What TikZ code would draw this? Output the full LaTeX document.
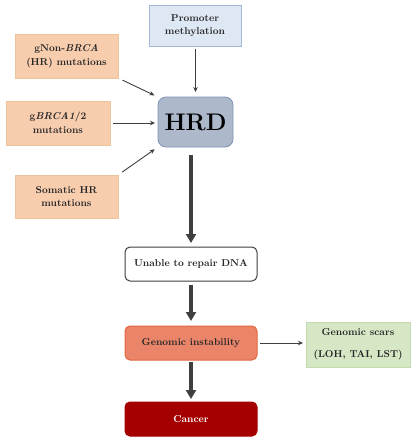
\documentclass[tikz,border=0pt]{standalone}
\usetikzlibrary{arrows.meta}
\definecolor{peach}{HTML}{F8CDAE}
\definecolor{peachline}{HTML}{EDC39C}
\definecolor{paleblue}{HTML}{DEE8F5}
\definecolor{paleblueline}{HTML}{A3B7D8}
\definecolor{hrdfill}{HTML}{ADB8CB}
\definecolor{hrdline}{HTML}{7F92B4}
\definecolor{salmon}{HTML}{EA8569}
\definecolor{salmonline}{HTML}{E2663F}
\definecolor{palegreen}{HTML}{D6E7C5}
\definecolor{palegreenline}{HTML}{C3DBAC}
\definecolor{darkred}{HTML}{A40000}
\definecolor{arrowgray}{HTML}{3F3F3F}
\definecolor{textgray}{HTML}{262626}
\begin{document}
\begin{tikzpicture}[y=1pt, x=1pt, yscale=-1, inner sep=0pt, outer sep=0pt,
  every node/.style={font=\fontsize{10}{13.5}\selectfont\bfseries, text=textgray, align=center},
  cause/.style={fill=peach, draw=peachline, line width=0.6pt, minimum width=103pt, minimum height=44pt},
  stage/.style={rounded corners=5pt, line width=1pt, minimum width=132pt, minimum height=34pt},
  thin arrow/.style={draw=arrowgray, line width=0.9pt, -{Stealth[length=5pt,width=4.5pt]}},
  thick arrow/.style={draw=arrowgray, line width=3.6pt, -{Triangle[length=9pt,width=10pt]}}]
\useasboundingbox (0,0) rectangle (415,440);
  % causes
  \node[fill=paleblue, draw=paleblueline, line width=0.6pt, minimum width=92pt, minimum height=41pt] (promoter) at (195,25.5) {Promoter\\methylation};
  \node[cause] (gnon) at (66.5,56) {gNon-\textit{BRCA}\\(HR) mutations};
  \node[cause, minimum width=104pt] (gbrca) at (58,123) {g\textit{BRCA1}/2\\mutations};
  \node[cause, minimum height=43pt] (somatic) at (66.5,196.5) {Somatic HR\\mutations};
  \node[fill=hrdfill, draw=hrdline, line width=0.8pt, rounded corners=8pt, minimum width=75pt, minimum height=50pt, font=\fontsize{24}{28}\selectfont\bfseries, text=black] (hrd) at (195.5,122) {HRD};
  % consequences
  \node[stage, fill=white, draw=arrowgray] (unable) at (191,264) {Unable to repair DNA};
  \node[stage, fill=salmon, draw=salmonline] (instab) at (191,343) {Genomic instability};
  \node[fill=palegreen, draw=palegreenline, line width=0.6pt, minimum width=104pt, minimum height=45pt] (scars) at (358,344.5) {Genomic scars\\[8pt](LOH, TAI, LST)};
  \node[stage, fill=darkred, draw=darkred, text=white] (cancer) at (191,419) {Cancer};
  % arrows
  \path[thin arrow, shorten <=3pt, shorten >=5pt] (promoter.south -| hrd.north) -- (hrd.north);
  \path[thin arrow, shorten <=5pt, shorten >=4pt] (gnon.south east) -- (hrd.north west);
  \path[thin arrow, shorten <=3pt, shorten >=3pt] (gbrca.east) -- (gbrca.east -| hrd.west);
  \path[thin arrow, shorten <=5pt, shorten >=4pt] (somatic.north east) -- (hrd.south west);
  \path[thick arrow, shorten <=8pt, shorten >=4pt] (hrd.south -| unable.north) -- (unable.north);
  \path[thick arrow, shorten <=4pt, shorten >=5pt] (unable) -- (instab);
  \path[thick arrow, shorten <=2pt, shorten >=3pt] (instab) -- (cancer);
  \path[thin arrow, shorten <=3pt, shorten >=3pt] (instab.east) -- (instab.east -| scars.west);
\end{tikzpicture}
\end{document}
